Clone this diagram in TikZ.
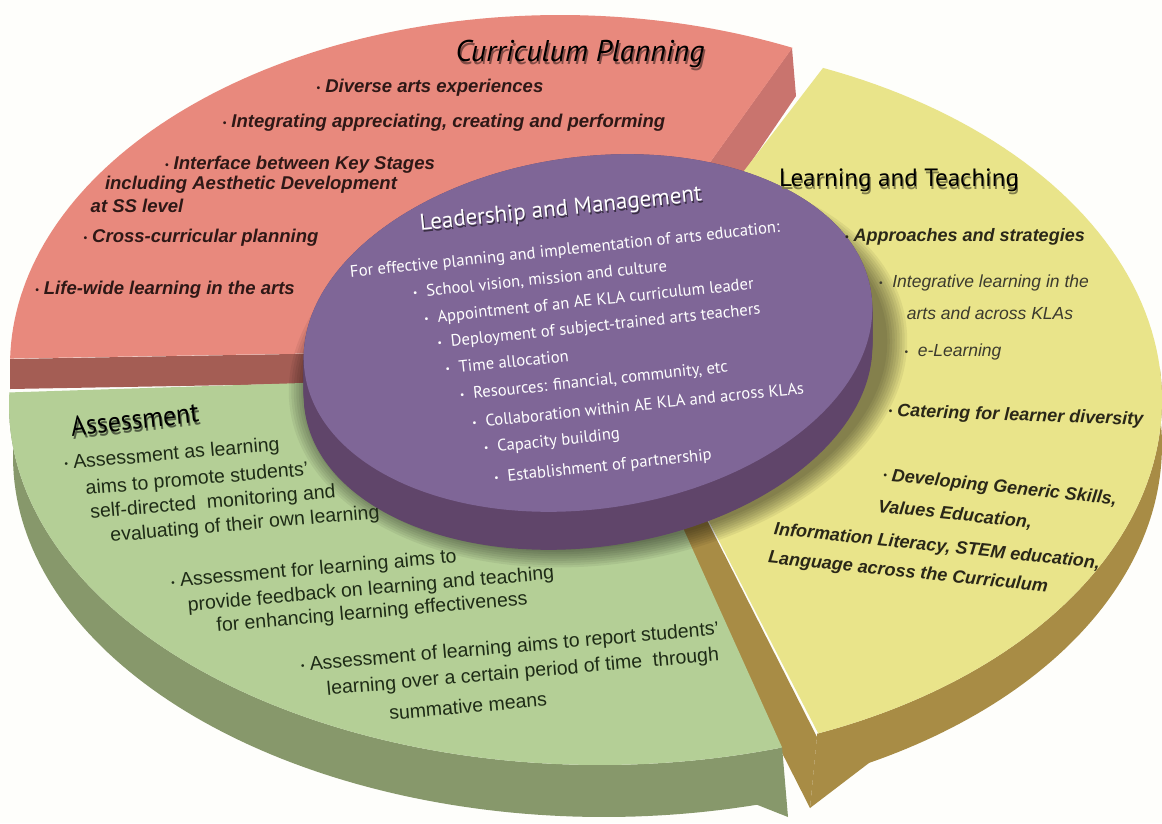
\documentclass[tikz,border=0pt]{standalone}
\usepackage{fontspec}
\setmainfont{Liberation Sans}
\newfontfamily\ptsans{PT Sans}
\definecolor{bg}{HTML}{FEFEFB}
\definecolor{redtop}{HTML}{E8897D}
\definecolor{redside}{HTML}{A45D54}
\definecolor{redsidetwo}{HTML}{C9746E}
\definecolor{yeltop}{HTML}{E9E48A}
\definecolor{yelside}{HTML}{A88C45}
\definecolor{grntop}{HTML}{B4CF96}
\definecolor{grnside}{HTML}{87986B}
\definecolor{purtop}{HTML}{7F6697}
\definecolor{purside}{HTML}{60456A}
\definecolor{redink}{HTML}{2E1816}
\definecolor{yelink}{HTML}{2A2718}
\definecolor{yelinktwo}{HTML}{3C3A2E}
\definecolor{grnink}{HTML}{1E2B16}
\newcommand{\mybul}{{\fontsize{10}{10}\selectfont\raisebox{0.15em}{•}}}
% text with a drop shadow, kept inside one node
\newcommand{\shtext}[4]{\makebox[0pt][l]{\hspace*{#2}\raisebox{#3}{\textcolor{#1}{#4}}}#4}
\tikzset{
  redtxt/.style={text=redink, font=\fontsize{18.5}{20}\selectfont\bfseries\itshape, inner sep=0pt},
  yelbold/.style={text=yelink, font=\fontsize{18}{20}\selectfont\bfseries\itshape, inner sep=0pt},
  yelreg/.style={text=yelinktwo, font=\fontsize{17.5}{19}\selectfont\itshape, inner sep=0pt},
  grntxt/.style={text=grnink, font=\fontsize{19.5}{21}\selectfont, inner sep=0pt, rotate=5},
  purtxt/.style={text=white, font=\ptsans\fontsize{16.6}{18}\selectfont, inner sep=0pt, rotate=6},
}
\begin{document}
\begin{tikzpicture}[x=1pt,y=-1pt]
\useasboundingbox (0,0) rectangle (1162,823);
\fill[bg] (0,0) rectangle (1162,823);

% ---------- red sector (Curriculum Planning)
\fill[redside] (10,359) -- (576,349) -- (576,379) -- (10,389) -- cycle;
\fill[redsidetwo] (576,349) -- (792,48) -- (796,96) -- (600,384) -- cycle;
\fill[redtop] (576,349) -- plot[domain=0:1,samples=90] ({560+550*cos(65+114*\x)},{365-350*sin(65+114*\x)}) -- cycle;

% ---------- yellow sector (Learning and Teaching)
\fill[yelside] (615,339) -- (817,737) -- (810,808) -- (608,410) -- cycle;
\fill[yelside] plot[domain=0:1,samples=60] ({610+552*cos(5-73*\x)},{400-360*sin(5-73*\x)})
   -- (810,808) -- plot[domain=0:1,samples=60] ({610+552*cos(-62+67*\x)},{445-360*sin(-62+67*\x)}) -- cycle;
\fill[yeltop] (615,339) -- plot[domain=0:1,samples=90] ({610+552*cos(67.3-135.2*\x)},{400-360*sin(67.3-135.2*\x)}) -- cycle;

% ---------- green sector (Assessment)
\fill[grnside] plot[domain=0:1,samples=90] ({600+591*cos(178+110*\x)},{405-360*sin(178+110*\x)})
   -- (788,817) -- plot[domain=0:1,samples=90] ({604+591*cos(285-107*\x)},{457-360*sin(285-107*\x)}) -- cycle;
\fill[grntop] (613,373) -- plot[domain=0:1,samples=90] ({600+591*cos(178+110*\x)},{405-360*sin(178+110*\x)}) -- cycle;

% ---------- purple cylinder (Leadership and Management)
\foreach \i in {0,...,8} {
  \fill[black, opacity=0.06, shift={(598,366)}, rotate=8] (0,0) ellipse [x radius={291+2.5*\i}, y radius={181+2.2*\i}];
}
\foreach \d in {0,2,...,38} {
  \fill[purside, shift={(588,{333+\d})}, rotate=8] (0,0) ellipse [x radius=286, y radius=176];
}
\fill[purtop, shift={(588,333)}, rotate=8] (0,0) ellipse [x radius=286, y radius=176];

% ---------- headings
\node[text=black, font=\ptsans\itshape\fontsize{30}{32}\selectfont] (cp) at (580,55)
  {\shtext{redtop!55!black}{1.5pt}{-3pt}{Curriculum Planning}};
\node[text=black, font=\ptsans\fontsize{25}{27}\selectfont] (lt) at (899,182)
  {\shtext{yeltop!55!black}{1.2pt}{-3pt}{Learning and Teaching}};
\node[text=black, font=\ptsans\fontsize{28}{30}\selectfont, xscale=0.92, rotate=6] (as) at (135,421)
  {\shtext{grntop!45!black}{1.2pt}{-3pt}{Assessment}};
\node[text=white, font=\ptsans\fontsize{23}{25}\selectfont, rotate=6] (lm) at (561,211)
  {\shtext{purtop!45!black}{1pt}{-2.2pt}{Leadership and Management}};

% ---------- red texts
\node[redtxt] (r1) at (430,88) {\mybul\ Diverse arts experiences};
\node[redtxt] (r2) at (444,123) {\mybul\ Integrating appreciating, creating and performing};
\node[redtxt] (r3) at (300,165) {\mybul\ Interface between Key Stages};
\node[redtxt] (r4) at (251,185) {including Aesthetic Development};
\node[redtxt] (r5) at (137,206) {at SS level};
\node[redtxt] (r6) at (201,238) {\mybul\ Cross-curricular planning};
\node[redtxt] (r7) at (165,290) {\mybul\ Life-wide learning in the arts};

% ---------- yellow texts
\node[yelbold] (y1) at (965,237) {\mybul\ Approaches and strategies};
\node[yelreg] (y2) at (984,283) {\mybul\ \ Integrative learning in the};
\node[yelreg] (y3) at (990,313) {arts and across KLAs};
\node[yelreg] (y4) at (953,352) {\mybul\ \ e-Learning};
\node[yelbold, rotate=-2] (y5) at (1016,416) {\mybul\ Catering for learner diversity};
\node[yelbold, rotate=-6] (y6) at (1000,488) {\mybul\ Developing Generic Skills,};
\node[yelbold, rotate=-6] (y7) at (955,515) {Values Education,};
\node[yelbold, rotate=-6] (y8) at (937,547) {Information Literacy, STEM education,};
\node[yelbold, rotate=-6] (y9) at (908,573) {Language across the Curriculum};

% ---------- green texts
\node[grntxt] (g1) at (172,455) {\mybul\ Assessment as learning};
\node[grntxt] (g2) at (197,480) {aims to promote students'};
\node[grntxt] (g3) at (213,503) {self-directed\ \ monitoring and};
\node[grntxt] (g4) at (245,525) {evaluating of their own learning};
\node[grntxt] (g5) at (314,570) {\mybul\ Assessment for learning aims to};
\node[grntxt] (g6) at (371,590) {provide feedback on learning and teaching};
\node[grntxt] (g7) at (372,613) {for enhancing learning effectiveness};
\node[grntxt] (g8) at (510,648) {\mybul\ Assessment of learning aims to report students'};
\node[grntxt] (g9) at (523,673) {learning over a certain period of time\ \ through};
\node[grntxt] (g10) at (468,706) {summative means};

% ---------- purple texts
\node[purtxt] (p1) at (565,251) {For effective planning and implementation of arts education:};
\node[purtxt] (p2) at (540,280) {\mybul\ \ School vision, mission and culture};
\node[purtxt] (p3) at (589,302) {\mybul\ \ Appointment of an AE KLA curriculum leader};
\node[purtxt] (p4) at (599,327) {\mybul\ \ Deployment of subject-trained arts teachers};
\node[purtxt] (p5) at (507,362) {\mybul\ \ Time allocation};
\node[purtxt] (p6) at (594,382) {\mybul\ \ Resources: financial, community, etc};
\node[purtxt] (p7) at (638,405) {\mybul\ \ Collaboration within AE KLA and across KLAs};
\node[purtxt] (p8) at (552,442) {\mybul\ \ Capacity building};
\node[purtxt] (p9) at (603,467) {\mybul\ \ Establishment of partnership};
\end{tikzpicture}
\end{document}
